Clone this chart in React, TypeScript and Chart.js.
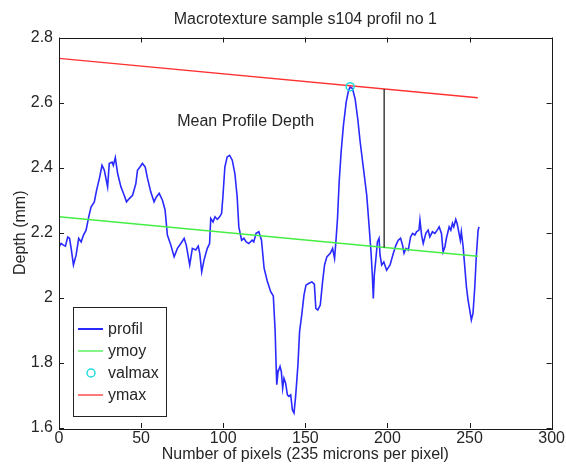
import React, { useEffect, useRef } from "react";
import { Chart, registerables } from "chart.js";

Chart.register(...registerables);

const TITLE = "Macrotexture sample s104 profil no 1";
const X_LABEL = "Number of pixels (235 microns per pixel)";
const Y_LABEL = "Depth (mm)";
const ANNOTATION = "Mean Profile Depth";
const X_TICKS = [0, 50, 100, 150, 200, 250, 300];
const Y_TICKS = [1.6, 1.8, 2.0, 2.2, 2.4, 2.6, 2.8];
const SERIES_NAMES = ["profil", "ymoy", "valmax", "ymax"];

const profilX = [0,1.3,2.7,3.9,5.3,6.4,7.4,8.8,10.4,12.0,13.5,14.9,16.5,18.1,19.5,21.5,22.9,24.6,26.2,27.6,29.6,30.6,32.3,33.1,34.3,35.7,37.7,39.7,41.1,42.8,44.8,46.8,47.8,49.3,50.8,52.5,53.9,55.9,57.9,59.3,61.0,63.0,64.6,66.0,68.1,70.1,72.1,74.2,76.2,77.5,79.6,81.2,83.3,84.8,85.7,86.9,88.3,90.3,91.7,92.4,93.8,95.0,96.4,97.8,99.0,99.8,101.0,102.4,103.9,105.5,107.1,108.5,109.5,111.2,112.6,114.0,115.6,117.6,118.6,120.0,121.7,123.3,124.9,126.8,128.9,130.5,131.6,132.3,132.6,133.4,134.6,135.4,136.2,137.0,138.0,139.1,140.0,141.1,142.1,143.1,144.1,145.5,146.5,147.8,149.2,150.4,152.0,154.0,155.5,156.4,157.6,159.1,160.5,161.7,163.1,165.2,166.6,167.8,168.6,169.6,170.6,171.8,173.2,174.9,176.3,177.3,178.7,180.3,181.9,183.4,185.4,187.4,188.8,190.0,190.8,191.4,192.0,192.8,193.9,194.9,195.5,196.5,197.8,199.5,201.6,203.6,205.2,206.6,208.0,209.2,210.1,211.3,212.7,214.1,215.3,216.7,217.7,219.2,219.8,220.8,221.8,223.4,224.8,225.8,227.4,228.9,230.3,231.5,232.9,233.9,235.0,235.9,237.6,238.6,239.6,240.4,241.6,242.4,243.6,244.4,245.0,246.1,247.1,248.1,249.1,250.1,251.1,252.1,253.2,254.1,255.2,255.8];
const profilY = [2.157,2.167,2.162,2.159,2.187,2.183,2.152,2.101,2.131,2.183,2.172,2.193,2.208,2.249,2.279,2.295,2.331,2.367,2.407,2.392,2.341,2.413,2.417,2.407,2.431,2.382,2.341,2.315,2.295,2.305,2.315,2.351,2.392,2.402,2.413,2.402,2.367,2.325,2.295,2.310,2.321,2.300,2.270,2.193,2.162,2.126,2.152,2.167,2.183,2.162,2.101,2.152,2.147,2.159,2.137,2.080,2.116,2.152,2.167,2.244,2.233,2.249,2.241,2.249,2.259,2.310,2.402,2.433,2.438,2.423,2.382,2.310,2.218,2.177,2.183,2.172,2.167,2.177,2.172,2.198,2.203,2.177,2.091,2.052,2.019,2.006,1.901,1.779,1.733,1.773,1.789,1.773,1.722,1.753,1.738,1.702,1.697,1.702,1.656,1.646,1.697,1.794,1.896,1.947,2.009,2.039,2.044,2.049,2.042,1.968,1.963,1.978,2.049,2.101,2.126,2.137,2.152,2.121,2.172,2.244,2.356,2.448,2.530,2.602,2.637,2.648,2.643,2.612,2.551,2.479,2.397,2.315,2.223,2.141,2.070,1.998,2.070,2.111,2.172,2.183,2.131,2.101,2.110,2.085,2.101,2.137,2.162,2.177,2.183,2.162,2.137,2.152,2.147,2.187,2.198,2.193,2.203,2.208,2.239,2.193,2.167,2.198,2.208,2.187,2.203,2.198,2.208,2.218,2.198,2.141,2.157,2.183,2.218,2.208,2.229,2.218,2.241,2.229,2.198,2.177,2.203,2.157,2.095,2.034,1.993,1.963,1.932,1.952,2.034,2.126,2.208,2.218];

const ymoyX = [0, 255];
const ymoyY = [2.249, 2.128];
const ymaxX = [0, 255];
const ymaxY = [2.736, 2.615];
const valmaxX = [177.3];
const valmaxY = [2.649];
const mpdX = [198, 198];
const mpdY = [2.155, 2.642];
const annotationX = 72;
const annotationY = 2.541;

const COLORS = {
  profil: "#2a2aff",
  ymoy: "#44ee44",
  valmax: "#22dddd",
  ymax: "#ff3030",
  mpd: "#222222",
};

const FONT = "'Liberation Sans', Arial, Helvetica, sans-serif";
const FONT_SIZE = 16;
const TEXT = "#262626";

const zip = (xs: number[], ys: number[]) =>
  xs.slice(0, Math.min(xs.length, ys.length)).map((x, i) => ({ x, y: ys[i] }));

const framePlugin = {
  id: "matlabFrame",
  afterDatasetsDraw(chart: any) {
    const { ctx, chartArea: a, scales } = chart;
    const xs = scales.x;
    const ys = scales.y;
    ctx.save();
    ctx.strokeStyle = "#1a1a1a";
    ctx.lineWidth = 1;
    ctx.strokeRect(Math.round(a.left) + 0.5, Math.round(a.top) + 0.5, Math.round(a.right - a.left), Math.round(a.bottom - a.top));
    const tl = 5;
    ctx.beginPath();
    X_TICKS.forEach((v) => {
      const p = Math.round(xs.getPixelForValue(v)) + 0.5;
      ctx.moveTo(p, a.bottom);
      ctx.lineTo(p, a.bottom - tl);
      ctx.moveTo(p, a.top);
      ctx.lineTo(p, a.top + tl);
    });
    Y_TICKS.forEach((v) => {
      const p = Math.round(ys.getPixelForValue(v)) + 0.5;
      ctx.moveTo(a.left, p);
      ctx.lineTo(a.left + tl, p);
      ctx.moveTo(a.right, p);
      ctx.lineTo(a.right - tl, p);
    });
    ctx.stroke();

    ctx.fillStyle = TEXT;
    ctx.font = `${FONT_SIZE}px ${FONT}`;
    ctx.textBaseline = "middle";
    ctx.textAlign = "left";
    ctx.fillText(ANNOTATION, xs.getPixelForValue(annotationX), ys.getPixelForValue(annotationY));

    const lx = a.left + 14;
    const ly = a.bottom - 121;
    const lw = 93;
    const lh = 109;
    ctx.fillStyle = "#ffffff";
    ctx.fillRect(lx, ly, lw, lh);
    ctx.strokeStyle = "#222222";
    ctx.lineWidth = 1;
    ctx.strokeRect(Math.round(lx) + 0.5, Math.round(ly) + 0.5, lw, lh);
    const colors = [COLORS.profil, COLORS.ymoy, COLORS.valmax, COLORS.ymax];
    SERIES_NAMES.forEach((name, i) => {
      const y = ly + 22 + i * 22;
      if (name === "valmax") {
        ctx.beginPath();
        ctx.strokeStyle = colors[i];
        ctx.lineWidth = 1.5;
        ctx.arc(lx + 18, y, 4, 0, Math.PI * 2);
        ctx.stroke();
      } else {
        ctx.beginPath();
        ctx.strokeStyle = colors[i];
        ctx.lineWidth = name === "profil" ? 2 : 1.3;
        ctx.moveTo(lx + 5, y);
        ctx.lineTo(lx + 30, y);
        ctx.stroke();
      }
      ctx.fillStyle = TEXT;
      ctx.textAlign = "left";
      ctx.textBaseline = "middle";
      ctx.fillText(name, lx + 35, y + 1);
    });
    ctx.restore();
  },
};

export default function App() {
  const ref = useRef<HTMLCanvasElement | null>(null);

  useEffect(() => {
    document.body.style.margin = "0";
    const canvas = ref.current;
    if (!canvas) return;
    const chart = new Chart(canvas, {
      type: "scatter",
      data: {
        datasets: [
          {
            label: SERIES_NAMES[0],
            data: zip(profilX, profilY),
            showLine: true,
            borderColor: COLORS.profil,
            borderWidth: 1.6,
            pointRadius: 0,
            tension: 0,
            order: 5,
          },
          {
            label: SERIES_NAMES[1],
            data: zip(ymoyX, ymoyY),
            showLine: true,
            borderColor: COLORS.ymoy,
            borderWidth: 1.6,
            pointRadius: 0,
            order: 4,
          },
          {
            label: SERIES_NAMES[2],
            data: zip(valmaxX, valmaxY),
            showLine: false,
            borderColor: COLORS.valmax,
            backgroundColor: "rgba(0,0,0,0)",
            borderWidth: 1.5,
            pointRadius: 4,
            pointStyle: "circle",
            order: 1,
          },
          {
            label: SERIES_NAMES[3],
            data: zip(ymaxX, ymaxY),
            showLine: true,
            borderColor: COLORS.ymax,
            borderWidth: 1.4,
            pointRadius: 0,
            order: 3,
          },
          {
            label: "mpd",
            data: zip(mpdX, mpdY),
            showLine: true,
            borderColor: COLORS.mpd,
            borderWidth: 1.3,
            pointRadius: 0,
            order: 2,
          },
        ],
      },
      options: {
        animation: false,
        responsive: false,
        maintainAspectRatio: false,
        layout: { padding: { top: 0, right: 12, bottom: 0, left: 0 } },
        plugins: {
          legend: { display: false },
          tooltip: { enabled: false },
          title: {
            display: true,
            text: TITLE,
            fullSize: false,
            color: TEXT,
            font: { family: FONT, size: FONT_SIZE, weight: "normal" },
            padding: { top: 9.5, bottom: 8.8 },
          },
        },
        scales: {
          x: {
            type: "linear",
            min: 0,
            max: 300,
            afterFit: (s: any) => {
              s.height = 38;
            },
            afterBuildTicks: (s: any) => {
              s.ticks = X_TICKS.map((v) => ({ value: v }));
            },
            ticks: {
              color: TEXT,
              font: { family: FONT, size: FONT_SIZE },
              padding: 1,
              maxRotation: 0,
              autoSkip: false,
            },
            grid: { display: false, drawTicks: false },
            border: { display: false },
            title: {
              display: true,
              text: X_LABEL,
              color: TEXT,
              font: { family: FONT, size: FONT_SIZE },
              padding: { top: 0, bottom: 2 },
            },
          },
          y: {
            type: "linear",
            min: 1.6,
            max: 2.8,
            afterFit: (s: any) => {
              s.width = 59;
            },
            afterBuildTicks: (s: any) => {
              s.ticks = Y_TICKS.map((v) => ({ value: v }));
            },
            ticks: {
              color: TEXT,
              font: { family: FONT, size: FONT_SIZE },
              padding: 6,
              autoSkip: false,
              callback: (v: any) => {
                const n = Number(v);
                return Math.abs(n - Math.round(n)) < 1e-9 ? String(Math.round(n)) : n.toFixed(1);
              },
            },
            grid: { display: false, drawTicks: false },
            border: { display: false },
            title: {
              display: true,
              text: Y_LABEL,
              color: TEXT,
              font: { family: FONT, size: FONT_SIZE },
              padding: { top: 11, bottom: 0 },
            },
          },
        },
      },
      plugins: [framePlugin],
    } as any);
    return () => chart.destroy();
  }, []);

  return (
    <div style={{ width: 566, height: 466, background: "#ffffff" }}>
      <canvas ref={ref} width={566} height={466} style={{ display: "block" }} />
    </div>
  );
}
